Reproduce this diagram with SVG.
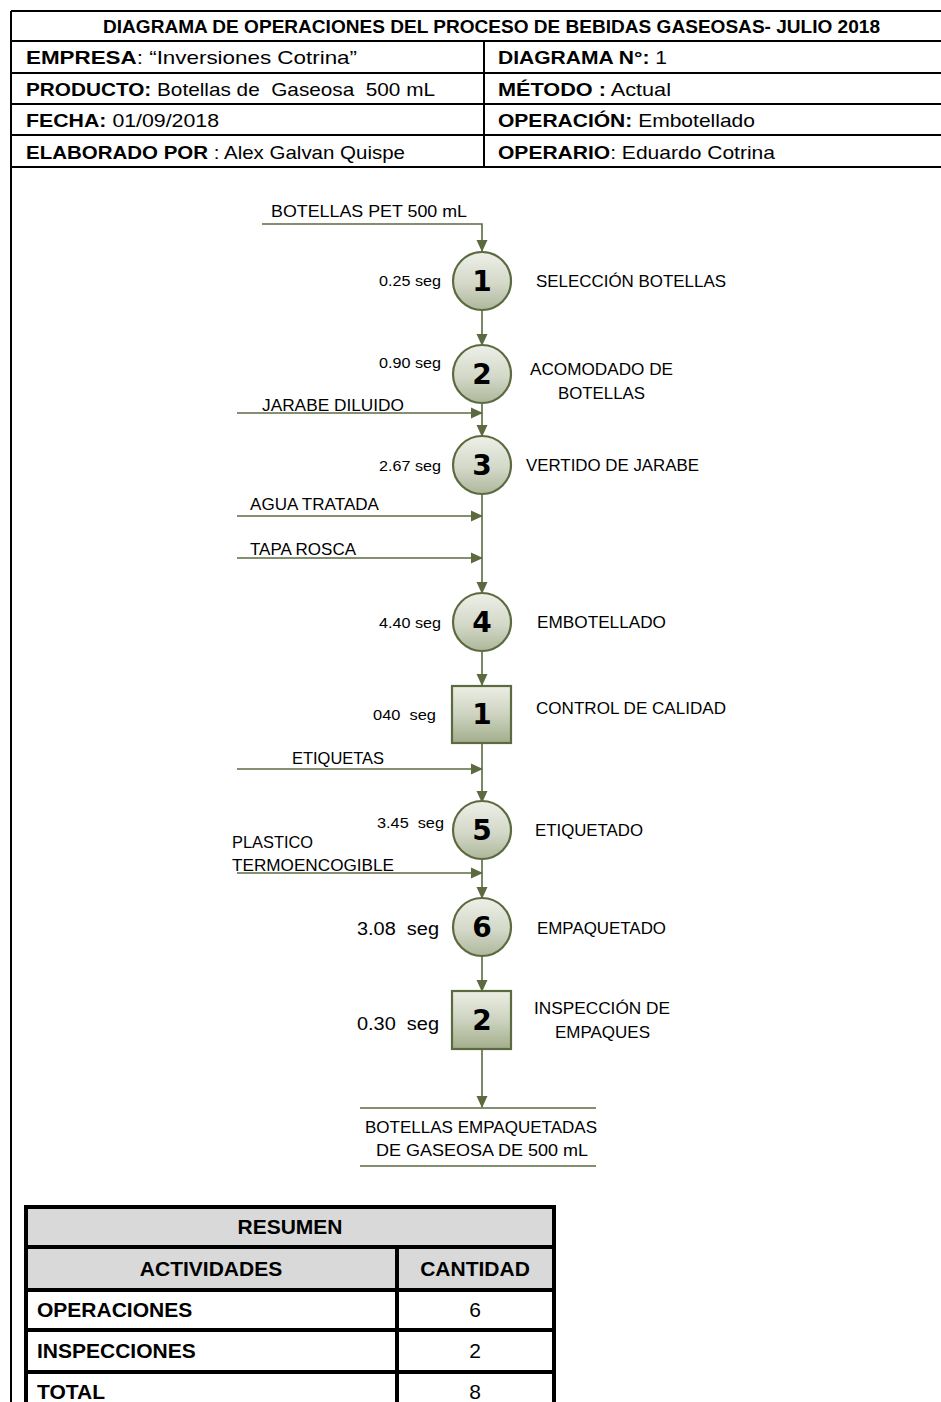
<svg xmlns="http://www.w3.org/2000/svg" width="941" height="1402" viewBox="0 0 941 1402">
  <defs>
    <linearGradient id="nodeFill" x1="0" y1="0" x2="0" y2="1">
      <stop offset="0" stop-color="#eef0e8"/>
      <stop offset="0.55" stop-color="#d3d8c8"/>
      <stop offset="1" stop-color="#aeb79b"/>
    </linearGradient>
    <linearGradient id="boxFill" x1="0" y1="0" x2="0" y2="1">
      <stop offset="0" stop-color="#eceee4"/>
      <stop offset="0.5" stop-color="#cdd3c0"/>
      <stop offset="1" stop-color="#a3ad8c"/>
    </linearGradient>
    <marker id="arrow" markerUnits="userSpaceOnUse" markerWidth="12" markerHeight="12" viewBox="0 0 12 12" refX="11" refY="6" orient="auto">
      <path d="M0,0.5 L12,6 L0,11.5 Z" fill="#5b6b3f"/>
    </marker>
    <style>
      .frame { fill: none; stroke: #000; stroke-width: 2; }
      .hdr { font-family: "Liberation Sans", Arial, sans-serif; font-size: 19px; fill: #000; white-space: pre; }
      .b { font-weight: bold; }
      .tbl { fill: none; stroke: #000; stroke-width: 4; }
      .tt { font-family: "Liberation Sans", Arial, sans-serif; font-size: 21px; fill: #000; }
      .conn { fill: none; stroke: #5b6b3f; stroke-width: 1.6; }
      .op { fill: url(#nodeFill); stroke: #5b6b3f; stroke-width: 2.2; }
      .insp { fill: url(#boxFill); stroke: #5b6b3f; stroke-width: 2.2; }
      .num { font-family: "DejaVu Sans", "Liberation Sans", sans-serif; font-weight: bold; font-size: 28px; fill: #000; text-anchor: middle; }
      .lbl { font-family: "Liberation Sans", Arial, sans-serif; font-size: 16.5px; fill: #000; white-space: pre; }
      .tm { font-family: "Liberation Sans", Arial, sans-serif; font-size: 14.5px; fill: #000; white-space: pre; }
      .tm2 { font-family: "Liberation Sans", Arial, sans-serif; font-size: 18px; fill: #000; white-space: pre; }
      .mid { text-anchor: middle; }
    </style>
  </defs>

  <rect x="0" y="0" width="941" height="1402" fill="#fff"/>

  <!-- header block -->
  <g id="header">
    <path class="frame" d="M11,11 H941 M11,41 H941 M11,73 H941 M11,104 H941 M11,135 H941 M11,167 H941 M11,11 V1402 M484,41 V167"/>
    <text class="hdr b" x="103" y="33" textLength="777" lengthAdjust="spacingAndGlyphs">DIAGRAMA DE OPERACIONES DEL PROCESO DE BEBIDAS GASEOSAS- JULIO 2018</text>
    <text class="hdr" x="26" y="64" textLength="331" lengthAdjust="spacingAndGlyphs"><tspan class="b">EMPRESA</tspan>: “Inversiones Cotrina”</text>
    <text class="hdr" x="498" y="64" textLength="169" lengthAdjust="spacingAndGlyphs"><tspan class="b">DIAGRAMA N°:</tspan> 1</text>
    <text class="hdr" x="26" y="96" textLength="409" lengthAdjust="spacingAndGlyphs"><tspan class="b">PRODUCTO:</tspan> Botellas de  Gaseosa  500 mL</text>
    <text class="hdr" x="498" y="96" textLength="173" lengthAdjust="spacingAndGlyphs"><tspan class="b">MÉTODO :</tspan> Actual</text>
    <text class="hdr" x="26" y="127" textLength="193" lengthAdjust="spacingAndGlyphs"><tspan class="b">FECHA:</tspan> 01/09/2018</text>
    <text class="hdr" x="498" y="127" textLength="257" lengthAdjust="spacingAndGlyphs"><tspan class="b">OPERACIÓN:</tspan> Embotellado</text>
    <text class="hdr" x="26" y="159" textLength="379" lengthAdjust="spacingAndGlyphs"><tspan class="b">ELABORADO POR</tspan> : Alex Galvan Quispe</text>
    <text class="hdr" x="498" y="159" textLength="277" lengthAdjust="spacingAndGlyphs"><tspan class="b">OPERARIO</tspan>: Eduardo Cotrina</text>
  </g>

  <!-- connectors -->
  <g id="connectors">
    <path class="conn" d="M262,224 H482 V251" marker-end="url(#arrow)"/>
    <path class="conn" d="M482,310 V345" marker-end="url(#arrow)"/>
    <path class="conn" d="M482,403 V436" marker-end="url(#arrow)"/>
    <path class="conn" d="M237,413 H482" marker-end="url(#arrow)"/>
    <path class="conn" d="M482,494 V593" marker-end="url(#arrow)"/>
    <path class="conn" d="M237,516 H482" marker-end="url(#arrow)"/>
    <path class="conn" d="M237,558 H482" marker-end="url(#arrow)"/>
    <path class="conn" d="M482,651 V685" marker-end="url(#arrow)"/>
    <path class="conn" d="M482,743 V802" marker-end="url(#arrow)"/>
    <path class="conn" d="M237,769 H482" marker-end="url(#arrow)"/>
    <path class="conn" d="M482,859 V898" marker-end="url(#arrow)"/>
    <path class="conn" d="M237,873 H482" marker-end="url(#arrow)"/>
    <path class="conn" d="M482,956 V991" marker-end="url(#arrow)"/>
    <path class="conn" d="M482,1049 V1107" marker-end="url(#arrow)"/>
    <path class="conn" d="M360,1108 H596 M360,1166 H596"/>
  </g>

  <!-- input / output labels -->
  <g id="inputs">
    <text class="lbl" x="271" y="217" textLength="196" lengthAdjust="spacingAndGlyphs">BOTELLAS PET 500 mL</text>
    <text class="lbl" x="262" y="411" textLength="142" lengthAdjust="spacingAndGlyphs">JARABE DILUIDO</text>
    <text class="lbl" x="250" y="510" textLength="129" lengthAdjust="spacingAndGlyphs">AGUA TRATADA</text>
    <text class="lbl" x="250" y="555" textLength="106" lengthAdjust="spacingAndGlyphs">TAPA ROSCA</text>
    <text class="lbl" x="292" y="764" textLength="92" lengthAdjust="spacingAndGlyphs">ETIQUETAS</text>
    <text class="lbl" x="232" y="848" textLength="81" lengthAdjust="spacingAndGlyphs">PLASTICO</text>
    <text class="lbl" x="232" y="871" textLength="162" lengthAdjust="spacingAndGlyphs">TERMOENCOGIBLE</text>
    <text class="lbl" x="365" y="1133" textLength="232" lengthAdjust="spacingAndGlyphs">BOTELLAS EMPAQUETADAS</text>
    <text class="lbl" x="376" y="1156" textLength="212" lengthAdjust="spacingAndGlyphs">DE GASEOSA DE 500 mL</text>
  </g>

  <!-- operations and inspections -->
  <g id="op1">
    <circle class="op" cx="482" cy="281" r="29"/>
    <text class="num" x="482" y="291">1</text>
    <text class="tm" x="379" y="286" textLength="62" lengthAdjust="spacingAndGlyphs">0.25 seg</text>
    <text class="lbl" x="536" y="287" textLength="190" lengthAdjust="spacingAndGlyphs">SELECCIÓN BOTELLAS</text>
  </g>
  <g id="op2">
    <circle class="op" cx="482" cy="374" r="29"/>
    <text class="num" x="482" y="384">2</text>
    <text class="tm" x="379" y="368" textLength="62" lengthAdjust="spacingAndGlyphs">0.90 seg</text>
    <text class="lbl" x="530" y="375" textLength="143" lengthAdjust="spacingAndGlyphs">ACOMODADO DE</text>
    <text class="lbl" x="558" y="399" textLength="87" lengthAdjust="spacingAndGlyphs">BOTELLAS</text>
  </g>
  <g id="op3">
    <circle class="op" cx="482" cy="465" r="29"/>
    <text class="num" x="482" y="475">3</text>
    <text class="tm" x="379" y="471" textLength="62" lengthAdjust="spacingAndGlyphs">2.67 seg</text>
    <text class="lbl" x="526" y="471" textLength="173" lengthAdjust="spacingAndGlyphs">VERTIDO DE JARABE</text>
  </g>
  <g id="op4">
    <circle class="op" cx="482" cy="622" r="29"/>
    <text class="num" x="482" y="632">4</text>
    <text class="tm" x="379" y="628" textLength="62" lengthAdjust="spacingAndGlyphs">4.40 seg</text>
    <text class="lbl" x="537" y="628" textLength="129" lengthAdjust="spacingAndGlyphs">EMBOTELLADO</text>
  </g>
  <g id="insp1">
    <rect class="insp" x="452" y="686" width="59" height="57"/>
    <text class="num" x="482" y="724">1</text>
    <text class="tm" x="373" y="720" textLength="63" lengthAdjust="spacingAndGlyphs">040  seg</text>
    <text class="lbl" x="536" y="714" textLength="190" lengthAdjust="spacingAndGlyphs">CONTROL DE CALIDAD</text>
  </g>
  <g id="op5">
    <circle class="op" cx="482" cy="830" r="29"/>
    <text class="num" x="482" y="840">5</text>
    <text class="tm" x="377" y="828" textLength="67" lengthAdjust="spacingAndGlyphs">3.45  seg</text>
    <text class="lbl" x="535" y="836" textLength="108" lengthAdjust="spacingAndGlyphs">ETIQUETADO</text>
  </g>
  <g id="op6">
    <circle class="op" cx="482" cy="927" r="29"/>
    <text class="num" x="482" y="937">6</text>
    <text class="tm2" x="357" y="935" textLength="82" lengthAdjust="spacingAndGlyphs">3.08  seg</text>
    <text class="lbl" x="537" y="934" textLength="129" lengthAdjust="spacingAndGlyphs">EMPAQUETADO</text>
  </g>
  <g id="insp2">
    <rect class="insp" x="452" y="991" width="59" height="58"/>
    <text class="num" x="482" y="1030">2</text>
    <text class="tm2" x="357" y="1030" textLength="82" lengthAdjust="spacingAndGlyphs">0.30  seg</text>
    <text class="lbl" x="534" y="1014" textLength="136" lengthAdjust="spacingAndGlyphs">INSPECCIÓN DE</text>
    <text class="lbl" x="555" y="1038" textLength="95" lengthAdjust="spacingAndGlyphs">EMPAQUES</text>
  </g>

  <!-- summary table -->
  <g id="summary">
    <rect x="26" y="1207" width="528" height="83" fill="#d9d9d9"/>
    <path class="tbl" d="M26,1207 H554 M26,1247 H554 M26,1290 H554 M26,1330 H554 M26,1372 H554 M26,1205 V1402 M554,1205 V1402 M397,1247 V1402"/>
    <text class="tt b mid" x="290" y="1234">RESUMEN</text>
    <text class="tt b mid" x="211" y="1276">ACTIVIDADES</text>
    <text class="tt b mid" x="475" y="1276">CANTIDAD</text>
    <text class="tt b" x="37" y="1317">OPERACIONES</text>
    <text class="tt mid" x="475" y="1317">6</text>
    <text class="tt b" x="37" y="1358">INSPECCIONES</text>
    <text class="tt mid" x="475" y="1358">2</text>
    <text class="tt b" x="37" y="1399">TOTAL</text>
    <text class="tt mid" x="475" y="1399">8</text>
  </g>
</svg>
